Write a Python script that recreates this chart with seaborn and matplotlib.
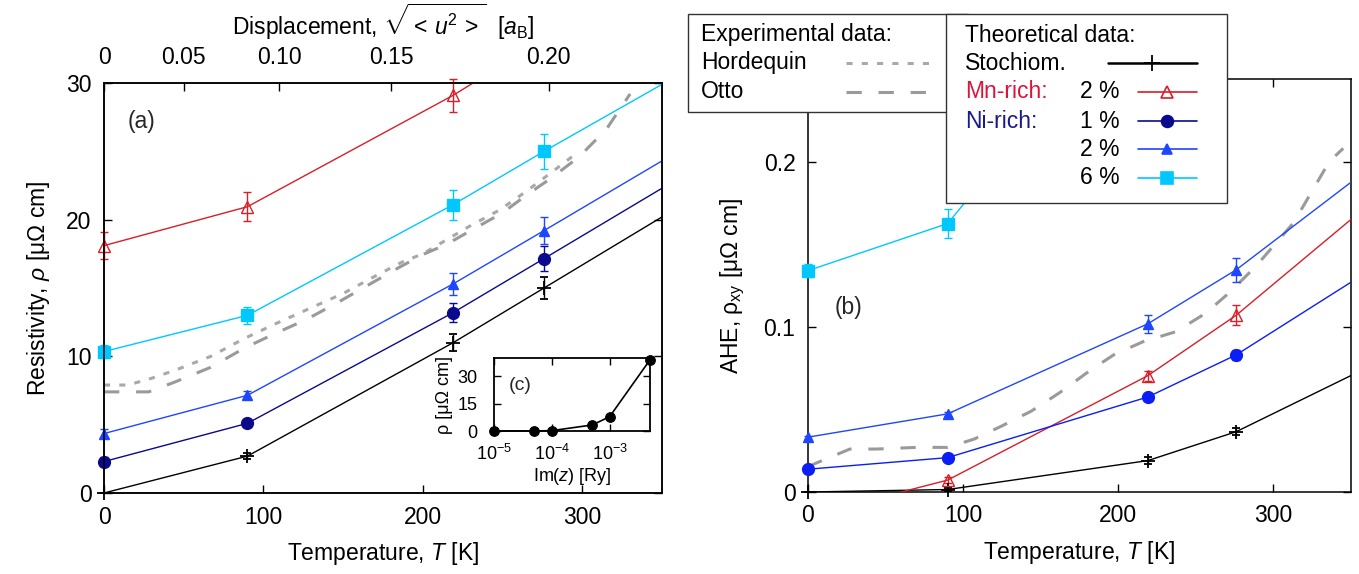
import numpy as np
import pandas as pd
import matplotlib
matplotlib.use("Agg")
import matplotlib.pyplot as plt
import seaborn as sns
from matplotlib.patches import Rectangle
from matplotlib.lines import Line2D

# ---------------- data ----------------
T_line = [0, 90, 219, 276, 350]          # temperatures of the calculated curves (last = extension)
T_pts = [0, 90, 219, 276]                # temperatures with symbols

# panel (a) resistivity [micro-Ohm cm]
a_stoich = [0.0, 2.7, 11.0, 15.0, 20.2]
a_stoich_err = [0.0, 0.2, 0.6, 0.8]
a_mn2 = [18.1, 20.95, 29.1, 33.2, 38.4]
a_mn2_err = [1.0, 1.05, 1.2, 1.3]
a_ni1 = [2.3, 5.1, 13.2, 17.15, 22.3]
a_ni1_err = [0.3, 0.3, 0.7, 0.9]
a_ni2 = [4.35, 7.15, 15.3, 19.2, 24.3]
a_ni2_err = [0.3, 0.3, 0.8, 1.0]
a_ni6 = [10.35, 13.0, 21.1, 25.0, 29.9]
a_ni6_err = [0.5, 0.6, 1.1, 1.3]

hord_T = [0, 15, 30, 45, 67, 88, 106, 127, 150, 169, 187, 200, 213, 229, 248, 264, 280, 298]
hord_v = [7.9, 7.9, 8.4, 9.0, 10.0, 11.3, 12.3, 13.4, 14.6, 15.8, 16.9, 17.5, 18.4, 19.5, 20.7, 22.0, 23.4, 25.0]
otto_a_T = [0, 28, 44, 67, 88, 106, 127, 146, 164, 185, 201, 215, 230, 250, 265, 280, 298, 315, 330]
otto_a_v = [7.4, 7.4, 8.1, 9.2, 10.6, 11.6, 12.7, 13.9, 15.1, 16.5, 17.5, 18.2, 19.2, 20.5, 21.8, 23.0, 24.6, 26.6, 29.2]

# displacement axis (top of panel a)
disp_labels = ["0", "0.05", "0.10", "0.15", "0.20"]
disp_T = [0, 50, 110, 180, 279]

# panel (b) AHE [micro-Ohm cm]
b_stoich = [0.0, 0.0015, 0.019, 0.0365, 0.0705]
b_stoich_err = [0.0, 0.001, 0.002, 0.002]
b_mn2 = [-0.0145, 0.0072, 0.0704, 0.107, 0.165]
b_mn2_err = [0.002, 0.002, 0.003, 0.006]
b_ni1 = [0.0138, 0.0208, 0.0575, 0.083, 0.127]
b_ni1_err = [0.001, 0.001, 0.002, 0.003]
b_ni2 = [0.0332, 0.0473, 0.1018, 0.1345, 0.1875]
b_ni2_err = [0.001, 0.001, 0.0053, 0.0072]
b_ni6 = [0.134, 0.1625, 0.31, 0.40, 0.50]
b_ni6_err = [0.004, 0.0088, 0.01, 0.01]

otto_b_T = [0, 4, 27, 44, 70, 90, 107, 125, 144, 162, 181, 197, 216, 237, 256, 272, 289, 313, 336, 345]
otto_b_v = [0.015, 0.017, 0.026, 0.026, 0.027, 0.027, 0.032, 0.040, 0.049, 0.060, 0.073, 0.083,
            0.091, 0.097, 0.108, 0.121, 0.137, 0.163, 0.200, 0.208]

# inset (c)
c_imz = [1e-5, 5e-5, 1e-4, 5e-4, 1e-3, 5e-3]
c_rho = [0.0, 0.0, 0.2, 3.3, 7.8, 39.0]

# ---------------- style ----------------
sns.set_theme(style="ticks")
FONT = "Liberation Sans"
plt.rcParams["font.family"] = [FONT, "DejaVu Sans"]
plt.rcParams["mathtext.fontset"] = "custom"
plt.rcParams["mathtext.rm"] = FONT
plt.rcParams["mathtext.it"] = FONT + ":italic"
plt.rcParams["mathtext.bf"] = FONT + ":bold"
plt.rcParams["axes.linewidth"] = 1.1
FS = 16.5

C_RED = "#d81e28"
C_NAVY = "#0a0a8c"
C_BLUE1B = "#0a1ef5"
C_BLUE2 = "#1f46ff"
C_CYAN = "#00c8ff"
C_GRAY_D = "#a9a9a9"
C_GRAY_O = "#9a9a9a"

W, H = 1359, 574
fig = plt.figure(figsize=(W / 100, H / 100), dpi=100)
fig.patch.set_facecolor("white")


def frac(x0, y0, x1, y1):
    return [x0 / W, 1 - y1 / H, (x1 - x0) / W, (y1 - y0) / H]


axA = fig.add_axes(frac(104, 83, 662, 493))
axB = fig.add_axes(frac(808, 79, 1351, 492))


def style_axes(ax, top=True):
    ax.tick_params(direction="in", length=6, width=1, labelsize=FS, colors="black",
                   top=top, right=True, bottom=True, left=True, pad=9)
    for s in ax.spines.values():
        s.set_color("black")
        s.set_linewidth(1.1)
    ax.set_facecolor("white")


def plot_series(ax, yvals, err, color, marker, mfc, ms, ylim, mew=1.0, lw=1.0):
    df = pd.DataFrame({"T": T_line, "v": yvals})
    sns.lineplot(data=df, x="T", y="v", ax=ax, color=color, lw=lw, estimator=None,
                 sort=False, legend=False, zorder=3)
    pts = pd.DataFrame({"T": T_pts, "v": yvals[:4], "e": err})
    pts = pts[(pts["v"] >= ylim[0]) & (pts["v"] <= ylim[1])]
    eb = ax.errorbar(pts["T"], pts["v"], yerr=pts["e"], fmt=marker, color=color, mfc=mfc,
                     mec=color, ms=ms, mew=mew, capsize=3, elinewidth=1.0, capthick=1.0,
                     zorder=4, clip_on=False)
    for art in eb.lines[1] + eb.lines[2]:
        art.set_clip_on(False)


# ---------------- panel (a) ----------------
ylimA = (0, 30)
sns.lineplot(x=hord_T, y=hord_v, ax=axA, color=C_GRAY_D, lw=2.2, estimator=None, sort=False,
             legend=False, zorder=2)
axA.lines[-1].set_dashes((2.0, 3.0))
sns.lineplot(x=otto_a_T, y=otto_a_v, ax=axA, color=C_GRAY_O, lw=2.2, estimator=None, sort=False,
             legend=False, zorder=2)
axA.lines[-1].set_dashes((5.0, 5.5))

plot_series(axA, a_stoich, a_stoich_err, "black", "+", "black", 10, ylimA, mew=1.3)
plot_series(axA, a_mn2, a_mn2_err, C_RED, "^", "none", 8.5, ylimA)
plot_series(axA, a_ni1, a_ni1_err, C_NAVY, "o", C_NAVY, 8.5, ylimA)
plot_series(axA, a_ni2, a_ni2_err, C_BLUE2, "^", C_BLUE2, 7.5, ylimA)
plot_series(axA, a_ni6, a_ni6_err, C_CYAN, "s", C_CYAN, 8.5, ylimA)

axA.set_xlim(0, 350)
axA.set_ylim(*ylimA)
axA.set_xticks([0, 100, 200, 300])
axA.set_yticks([0, 10, 20, 30])
style_axes(axA, top=False)
axA.set_xlabel(r"Temperature, $T$ [K]", fontsize=FS, labelpad=8, color="black")
axA.set_ylabel(r"Resistivity, $\rho$ [μΩ cm]", fontsize=FS, labelpad=10, color="black")
axA.text(0.068, 0.905, "(a)", transform=axA.transAxes, fontsize=FS, ha="center", va="center")

axT = axA.twiny()
axT.set_xlim(axA.get_xlim())
axT.set_xticks(disp_T)
axT.set_xticklabels(disp_labels)
axT.tick_params(axis="x", direction="in", length=6, width=1, labelsize=FS, pad=10, colors="black")
axT.tick_params(axis="y", left=False, right=False, labelleft=False, labelright=False)
axT.set_xlabel(r"Displacement, $\sqrt{<\,u^2\,>}$  [$a_\mathrm{B}$]", fontsize=FS, labelpad=8,
               color="black")
for s in axT.spines.values():
    s.set_linewidth(1.1)
    s.set_color("black")

# ---------------- inset (c) ----------------
axC = fig.add_axes(frac(494, 358, 650, 431))
axC.set_facecolor("white")
sns.lineplot(x=c_imz, y=c_rho, ax=axC, color="black", lw=1.2, marker="o", ms=7, mec="black",
             mfc="black", estimator=None, sort=False, legend=False, clip_on=False, zorder=5)
axC.set_xscale("log")
axC.set_xlim(1e-5, 5e-3)
axC.set_ylim(0, 40)
axC.set_xticks([1e-5, 1e-4, 1e-3])
axC.minorticks_off()
axC.set_yticks([0, 15, 30])
axC.tick_params(direction="in", length=5, width=1, labelsize=13, top=True, right=True,
                colors="black")
axC.tick_params(axis="y", pad=12)
axC.tick_params(axis="x", pad=9)
for s in axC.spines.values():
    s.set_linewidth(1.3)
    s.set_color("black")
axC.set_xlabel(r"Im($z$) [Ry]", fontsize=13, labelpad=2, color="black")
axC.set_ylabel("ρ [μΩ cm]", fontsize=13, labelpad=3, color="black")
axC.text(0.17, 0.63, "(c)", transform=axC.transAxes, fontsize=14, ha="center", va="center")

# ---------------- panel (b) ----------------
ylimB = (0, 0.25)
sns.lineplot(x=otto_b_T, y=otto_b_v, ax=axB, color=C_GRAY_O, lw=2.2, estimator=None, sort=False,
             legend=False, zorder=2)
axB.lines[-1].set_dashes((5.0, 5.5))

plot_series(axB, b_stoich, b_stoich_err, "black", "+", "black", 10, ylimB, mew=1.3)
plot_series(axB, b_mn2, b_mn2_err, C_RED, "^", "none", 8.5, ylimB)
plot_series(axB, b_ni1, b_ni1_err, C_BLUE1B, "o", C_BLUE1B, 8.5, ylimB)
plot_series(axB, b_ni2, b_ni2_err, C_BLUE2, "^", C_BLUE2, 7.5, ylimB)
plot_series(axB, b_ni6, b_ni6_err, C_CYAN, "s", C_CYAN, 8.5, ylimB)

axB.set_xlim(0, 350)
axB.set_ylim(*ylimB)
axB.set_xticks([0, 100, 200, 300])
axB.set_yticks([0, 0.1, 0.2])
axB.set_yticklabels(["0", "0.1", "0.2"])
style_axes(axB, top=True)
axB.set_xlabel(r"Temperature, $T$ [K]", fontsize=FS, labelpad=8, color="black")
axB.set_ylabel(r"AHE, ρ$_\mathrm{xy}$ [μΩ cm]", fontsize=FS, labelpad=12, color="black")
axB.text(0.0755, 0.4475, "(b)", transform=axB.transAxes, fontsize=FS, ha="center", va="center")

# ---------------- legend overlay ----------------
axL = fig.add_axes([0, 0, 1, 1], zorder=20)
axL.set_xlim(0, W)
axL.set_ylim(H, 0)
axL.axis("off")
axL.patch.set_alpha(0)

axL.add_patch(Rectangle((688, 14), 280, 98, facecolor="white", edgecolor="#333333", lw=1.0, zorder=1))
axL.add_patch(Rectangle((946, 14), 281, 189, facecolor="white", edgecolor="#333333", lw=1.0, zorder=2))

tkw = dict(fontsize=FS, va="center", ha="left", zorder=5, color="black")
axL.text(701, 35, "Experimental data:", **tkw)
axL.text(701, 63, "Hordequin", **tkw)
axL.text(701, 92, "Otto", **tkw)
l1 = Line2D([846, 937], [63, 63], color=C_GRAY_D, lw=2.2, zorder=3)
l1.set_dashes((2.0, 3.0))
axL.add_line(l1)
l2 = Line2D([846, 937], [92, 92], color=C_GRAY_O, lw=2.2, zorder=3)
l2.set_dashes((5.0, 5.5))
axL.add_line(l2)

axL.text(965, 35, "Theoretical data:", **tkw)
axL.text(965, 63, "Stochiom.", **tkw)
axL.text(965, 92, "Mn-rich:", **{**tkw, "color": "#dc143c"})
axL.text(965, 121, "Ni-rich:", **{**tkw, "color": "#1a1a8c"})

leg_rows = [
    ("2 %", 92, C_RED, "^", "none", 8.5),
    ("1 %", 121, C_NAVY, "o", C_NAVY, 8.5),
    ("2 %", 149, C_BLUE2, "^", C_BLUE2, 7.5),
    ("6 %", 178, C_CYAN, "s", C_CYAN, 8.5),
]
axL.add_line(Line2D([1108, 1197], [63, 63], color="black", lw=1.8, zorder=6))
axL.add_line(Line2D([1152], [63], color="black", marker="+", ms=12, mew=1.3, zorder=6))
for lab, yy, col, mk, mfc, ms in leg_rows:
    axL.text(1080, yy, lab, **tkw)
    axL.add_line(Line2D([1138, 1197], [yy, yy], color=col, lw=1.2, zorder=6))
    axL.add_line(Line2D([1167], [yy], color=col, marker=mk, mfc=mfc, mec=col, ms=ms, mew=1.2, zorder=6))

fig.savefig("out.png", dpi=100, facecolor="white")
